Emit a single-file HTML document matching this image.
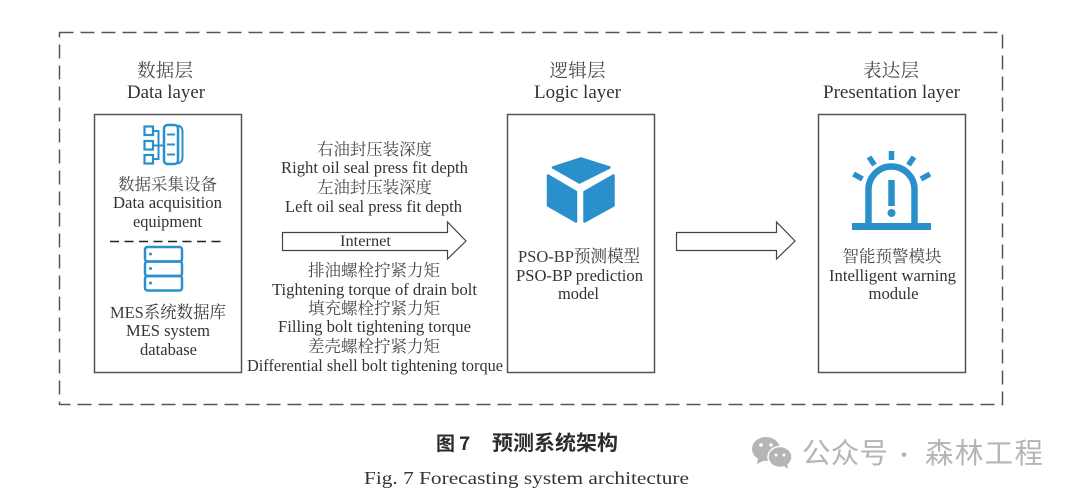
<!DOCTYPE html>
<html><head><meta charset="utf-8">
<style>
html,body{margin:0;padding:0;background:#fff;width:1080px;height:497px;overflow:hidden}
svg{display:block}
text{font-family:"Liberation Serif","Noto Serif CJK SC",serif;fill:#333;text-anchor:middle;font-size:17px;filter:blur(.25px)}
.c{font-family:"Noto Serif CJK SC","Liberation Serif",serif;fill:#4a4a4a;font-size:16.5px}
.h{font-size:18.5px}
.e{font-size:19px}
.m{font-family:"Liberation Serif","Noto Serif CJK SC",serif;fill:#3c3c3c}
.wm{font-family:"Noto Sans CJK SC","Liberation Sans",sans-serif;fill:#b5b5b5;font-size:28.5px;text-anchor:start;filter:none}
.b{fill:none;stroke:#555;stroke-width:1.5}
.ic{fill:none;stroke:#2a90cc;stroke-width:2.5}
.cap{font-family:"Noto Sans CJK SC",sans-serif;font-weight:700;fill:#2c2c2c;text-anchor:start}
</style></head>
<body>
<svg width="1080" height="497" viewBox="0 0 1080 497" xmlns="http://www.w3.org/2000/svg">
<rect x="59.5" y="32.5" width="943" height="372" fill="none" stroke="#555" stroke-width="1.5" stroke-dasharray="14 7"/>
<rect class="b" x="94.5" y="114.5" width="147" height="258"/>
<rect class="b" x="507.5" y="114.5" width="147" height="258"/>
<rect class="b" x="818.5" y="114.5" width="147" height="258"/>

<text class="c h" x="165" y="77" textLength="56">数据层</text>
<text class="e" x="166" y="98" textLength="78" lengthAdjust="spacingAndGlyphs">Data layer</text>
<text class="c h" x="577.5" y="77" textLength="56">逻辑层</text>
<text class="e" x="577.5" y="98" textLength="87" lengthAdjust="spacingAndGlyphs">Logic layer</text>
<text class="c h" x="891" y="77" textLength="56">表达层</text>
<text class="e" x="891.5" y="98" textLength="137" lengthAdjust="spacingAndGlyphs">Presentation layer</text>

<!-- left box -->
<g class="ic">
<rect x="144.500" y="126.500" width="8.500" height="8.500" stroke-width="2.200"/>
<rect x="144.500" y="141" width="8.500" height="8.500" stroke-width="2.200"/>
<rect x="144.500" y="155" width="8.500" height="8.500" stroke-width="2.200"/>
<path d="M153 131H158.500V159H153M153 145.500H164" stroke-width="2"/>
<rect x="164" y="125" width="14" height="39" rx="3.500"/>
<path d="M178 125.500Q182.500 126.500 182.500 132V157Q182.500 162.500 178 163.500M167 134.500H175M167 144.500H175M167 154.500H175" stroke-width="2"/>
<rect x="145" y="247" width="37" height="14.500" rx="2.500"/>
<rect x="145" y="261.500" width="37" height="14.500" rx="2.500"/>
<rect x="145" y="276" width="37" height="14.500" rx="2.500"/>
</g>
<circle cx="150.500" cy="254" r="1.500" fill="#2a90cc"/>
<circle cx="150.500" cy="268.500" r="1.500" fill="#2a90cc"/>
<circle cx="150.500" cy="283" r="1.500" fill="#2a90cc"/>
<text class="c" x="167.500" y="190" textLength="99">数据采集设备</text>
<text x="167.500" y="208" textLength="109" lengthAdjust="spacingAndGlyphs">Data acquisition</text>
<text x="167.500" y="227" textLength="69" lengthAdjust="spacingAndGlyphs">equipment</text>
<line x1="110" y1="241.500" x2="225" y2="241.500" stroke="#222" stroke-width="1.500" stroke-dasharray="9 5.500"/>
<text class="m" x="168" y="318" textLength="116" lengthAdjust="spacingAndGlyphs">MES系统数据库</text>
<text x="168" y="336" textLength="84" lengthAdjust="spacingAndGlyphs">MES system</text>
<text x="168.500" y="355" textLength="57" lengthAdjust="spacingAndGlyphs">database</text>

<!-- middle labels -->
<text class="c" x="374.500" y="155" textLength="115">右油封压装深度</text>
<text x="374.500" y="173" textLength="187" lengthAdjust="spacingAndGlyphs">Right oil seal press fit depth</text>
<text class="c" x="374.500" y="193" textLength="115">左油封压装深度</text>
<text x="373.500" y="212" textLength="177" lengthAdjust="spacingAndGlyphs">Left oil seal press fit depth</text>
<path d="M282.500 232.500H447.500V222L466 241L447.500 259V250.500H282.500Z" fill="#fff" stroke="#444" stroke-width="1.200"/>
<text x="365.500" y="246" textLength="51" lengthAdjust="spacingAndGlyphs" style="font-size:15.500px">Internet</text>
<text class="c" x="374" y="276" textLength="132">排油螺栓拧紧力矩</text>
<text x="374.500" y="295" textLength="205" lengthAdjust="spacingAndGlyphs">Tightening torque of drain bolt</text>
<text class="c" x="374" y="314" textLength="132">填充螺栓拧紧力矩</text>
<text x="374.500" y="332" textLength="193" lengthAdjust="spacingAndGlyphs">Filling bolt tightening torque</text>
<text class="c" x="374" y="352" textLength="132">差壳螺栓拧紧力矩</text>
<text x="375" y="371" textLength="256" lengthAdjust="spacingAndGlyphs">Differential shell bolt tightening torque</text>

<!-- cube -->
<g fill="#2a90cc" stroke="#2a90cc" stroke-width="2.500" stroke-linejoin="round">
<path d="M553 167.500L581 158.500L609.500 167.500L579.500 182.500Z"/>
<path d="M548 175.500L576 192V221.500L548 205.500Z"/>
<path d="M613.500 175.500L584.500 192V221.500L613.500 205.500Z"/>
</g>
<text class="m" x="579" y="262" textLength="122" lengthAdjust="spacingAndGlyphs">PSO-BP预测模型</text>
<text x="579.500" y="281" textLength="127" lengthAdjust="spacingAndGlyphs">PSO-BP prediction</text>
<text x="578.500" y="299" textLength="41" lengthAdjust="spacingAndGlyphs">model</text>

<path d="M676.500 232.500H776.500V222L795 241L776.500 259V250.500H676.500Z" fill="#fff" stroke="#444" stroke-width="1.200"/>

<!-- alarm -->
<g stroke="#2a90cc" fill="none">
<path d="M852 226.500H931" stroke-width="7"/>
<path d="M868.500 224V189.500A23 23 0 0 1 914.500 189.500V224" stroke-width="6.500"/>
<path d="M891.500 180V206" stroke-width="6.500"/>
<path d="M891.500 151V160M869 157L874.500 165M914 157L908.500 165M853.500 174L862.500 179M930 174L921 179" stroke-width="5.500"/>
</g>
<circle cx="891.500" cy="213" r="4" fill="#2a90cc"/>
<text class="c" x="892" y="262" textLength="99">智能预警模块</text>
<text x="892.500" y="281" textLength="127" lengthAdjust="spacingAndGlyphs">Intelligent warning</text>
<text x="893.500" y="299" textLength="50" lengthAdjust="spacingAndGlyphs">module</text>

<!-- caption -->
<text class="cap" x="436" y="450" style="font-size:19px">图</text>
<text class="cap" x="459" y="450" style="font-size:19px">7</text>
<text class="cap" x="492" y="450" textLength="126" lengthAdjust="spacingAndGlyphs" style="font-size:20.500px">预测系统架构</text>
<text x="526.500" y="484" textLength="325" lengthAdjust="spacingAndGlyphs" style="font-size:18px">Fig. 7  Forecasting system architecture</text>

<!-- watermark -->
<ellipse cx="766" cy="449" rx="14" ry="12" fill="#b5b5b5"/>
<path d="M758 458L757 464L765 460Z" fill="#b5b5b5"/>
<ellipse cx="780" cy="457" rx="12" ry="10.500" fill="#b5b5b5" stroke="#fff" stroke-width="1.500"/>
<path d="M784 466L788 469L787 463Z" fill="#b5b5b5"/>
<circle cx="761" cy="445" r="1.800" fill="#fff"/><circle cx="771" cy="445" r="1.800" fill="#fff"/>
<circle cx="776" cy="455" r="1.500" fill="#fff"/><circle cx="784" cy="455" r="1.500" fill="#fff"/>
<text class="wm" x="802" y="463" textLength="86">公众号</text>
<text class="wm" x="893" y="463" style="font-size:22px">·</text>
<text class="wm" x="925" y="463" textLength="118">森林工程</text>
</svg>
</body></html>
